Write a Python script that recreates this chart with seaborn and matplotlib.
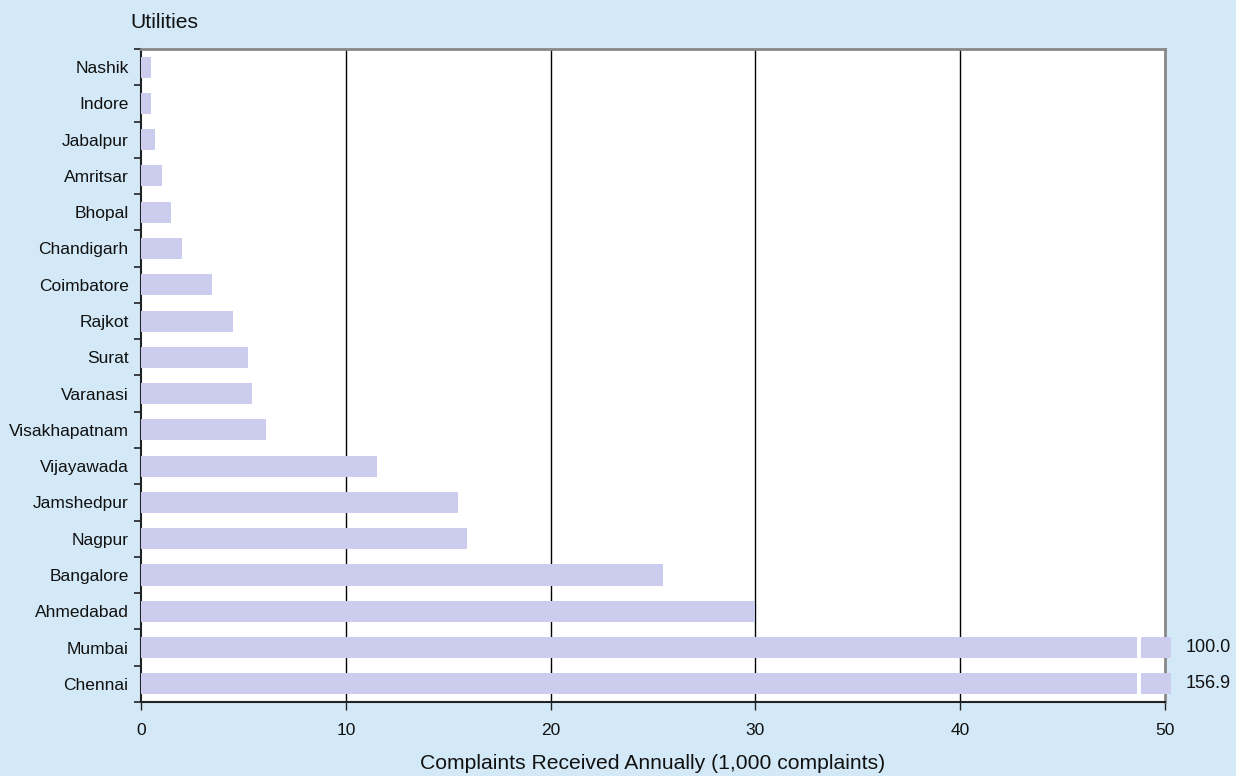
import numpy as np
import seaborn as sns
import matplotlib.pyplot as plt
from matplotlib.ticker import FixedLocator

# data
cities = ["Nashik", "Indore", "Jabalpur", "Amritsar", "Bhopal", "Chandigarh",
          "Coimbatore", "Rajkot", "Surat", "Varanasi", "Visakhapatnam",
          "Vijayawada", "Jamshedpur", "Nagpur", "Bangalore", "Ahmedabad",
          "Mumbai", "Chennai"]
complaints = [0.5, 0.5, 0.7, 1.0, 1.45, 2.0, 3.45, 4.5, 5.2, 5.4, 6.1,
              11.5, 15.5, 15.9, 25.5, 30.0, 100.0, 156.9]
axis_max = 50
bar_cap = 50.3   # broken bars stop just past the axis end
break_at = 48.65

bg = "#D3E9F7"
bar_color = "#CCCCEE"

sns.set_style("white")
plt.rcParams["font.family"] = ["Liberation Sans", "DejaVu Sans"]

fig = plt.figure(figsize=(12.36, 7.76), dpi=100, facecolor=bg)
ax = fig.add_axes([0.1141, 0.0954, 0.8285, 0.8415])
ax.set_facecolor("white")

shown = [min(v, bar_cap) for v in complaints]
sns.barplot(x=shown, y=cities, orient="h", color=bar_color, width=0.58,
            saturation=1, linewidth=0, ax=ax, zorder=3)
for patch in ax.patches:
    patch.set_clip_on(False)
    patch.set_edgecolor("none")

# break marks and labels for the long bars
for i, v in enumerate(complaints):
    if v > axis_max:
        ax.add_patch(plt.Rectangle((break_at, i - 0.35), 0.17, 0.7,
                                   facecolor="white", edgecolor="none",
                                   zorder=4, clip_on=False))
        ax.text(52.1, i, f"{v:.1f}", va="center", ha="center", fontsize=13,
                color="#111111")

ax.set_xlim(0, axis_max)
ax.set_ylim(len(cities) - 0.5, -0.5)
ax.set_xticks(np.arange(0, axis_max + 1, 10))
for gx in range(10, axis_max, 10):
    ax.axvline(gx, color="black", lw=1, zorder=1)

ax.yaxis.set_minor_locator(FixedLocator(np.arange(-0.5, len(cities), 1)))
ax.tick_params(axis="y", which="major", length=0, pad=9, labelsize=12.5,
               labelcolor="#111111")
ax.tick_params(axis="y", which="minor", length=5, width=1.2, color="#222222",
               direction="out", left=True)
ax.tick_params(axis="x", length=6, width=1, color="#222222", direction="out",
               pad=9, labelsize=12.5, labelcolor="#111111", bottom=True)

for side in ["top", "right"]:
    ax.spines[side].set_color("#888888")
    ax.spines[side].set_linewidth(2)
for side in ["left", "bottom"]:
    ax.spines[side].set_color("#222222")
    ax.spines[side].set_linewidth(1.5)

ax.set_ylabel("")
ax.set_xlabel("Complaints Received Annually (1,000 complaints)", fontsize=15.2,
              color="#111111", labelpad=12)
fig.text(0.1052, 0.971, "Utilities", fontsize=15.2, va="center", ha="left",
         color="#111111")

fig.savefig("out.png", dpi=100, facecolor=bg)
